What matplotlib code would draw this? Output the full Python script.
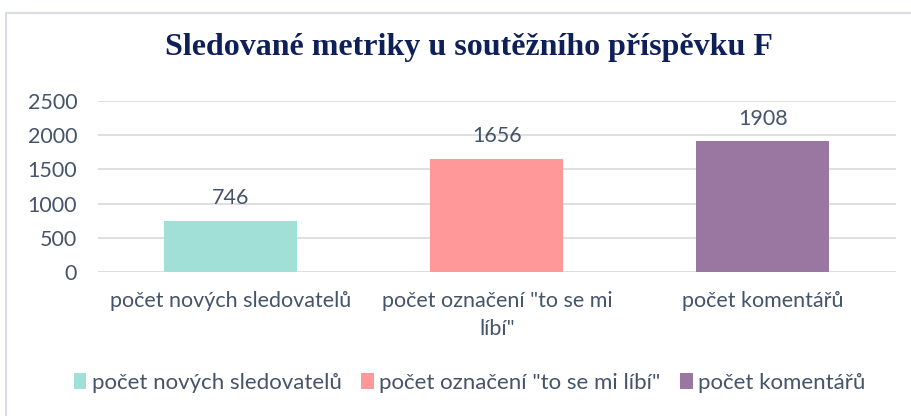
import matplotlib.pyplot as plt
from matplotlib.patches import Rectangle

# data
categories = ['počet nových sledovatelů', 'počet označení "to se mi líbí"', 'počet komentářů']
tick_labels = ['počet nových sledovatelů', 'počet označení "to se mi\nlíbí"', 'počet komentářů']
values = [746, 1656, 1908]
colors = ['#a0e0d6', '#ff9999', '#9a77a0']
y_ticks = [0, 500, 1000, 1500, 2000, 2500]

text_col = '#44546a'
font = ['Lato', 'DejaVu Sans']
fs = 15.5

fig = plt.figure(figsize=(9.12, 4.16), dpi=100)
ax = fig.add_axes([98 / 912, 1 - 272 / 416, (896 - 98) / 912, (272 - 101) / 416])

x = range(len(values))
bars = ax.bar(x, values, width=0.5, color=colors, label=categories, zorder=3)
for i, v in enumerate(values):
    ax.annotate(str(v), (i, v), xytext=(0, 9), textcoords='offset points',
                ha='center', va='bottom', fontsize=fs, color=text_col, family=font)

ax.set_xlim(-0.5, 2.5)
ax.set_ylim(0, 2500)
ax.set_yticks(y_ticks)
ax.set_xticks(list(x))
ax.set_xticklabels(tick_labels, fontsize=fs, color=text_col, family=font, linespacing=1.45)
for lab in ax.get_yticklabels():
    lab.set_fontsize(fs)
    lab.set_color(text_col)
    lab.set_family(font)
ax.tick_params(axis='both', length=0)
ax.tick_params(axis='y', pad=15)
ax.tick_params(axis='x', pad=14)
ax.grid(axis='y', color='#d9d9d9', linewidth=1.2, zorder=0)
for s in ax.spines.values():
    s.set_visible(False)

fig.text(0.514, 1 - 48 / 416, 'Sledované metriky u soutěžního příspěvku F',
         ha='center', va='center', fontsize=23, fontweight='bold',
         family='Liberation Serif', color='#0f1f5a')

leg = fig.legend(handles=bars, labels=categories, loc='center', ncol=3,
                 bbox_to_anchor=(0.515, 1 - 383 / 416), frameon=False,
                 handlelength=0.55, handleheight=0.7, handletextpad=0.25,
                 columnspacing=0.9, prop={'family': font, 'size': 16})
for t in leg.get_texts():
    t.set_color(text_col)

# outer chart border
fig.patches.append(Rectangle((6 / 912, -0.1), 1.2, 1 - 13 / 416 + 0.1,
                             transform=fig.transFigure, fill=False,
                             edgecolor='#d9dce3', linewidth=1.5))

fig.savefig('out.png', dpi=100)
